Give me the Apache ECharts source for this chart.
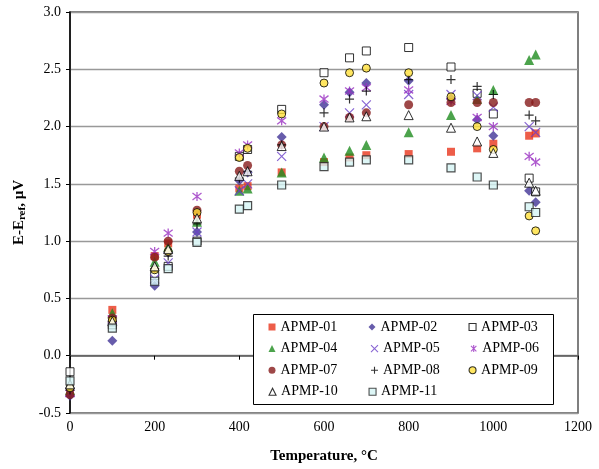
<!DOCTYPE html>
<html><head><meta charset="utf-8">
<script src="https://cdn.jsdelivr.net/npm/echarts@6/dist/echarts.min.js"></script>
<style>html,body{margin:0;padding:0;background:#fff}#c{width:599px;height:469px}</style>
</head><body><div id="c"></div>
<script>
var temps = [0, 100, 200, 231.928, 300, 400, 419.527, 500, 600, 660.323, 700, 800, 900, 961.78, 1000, 1084.62, 1100];
var apmp01 = [-0.32, 0.40, 0.87, 0.98, 1.23, 1.46, 1.48, 1.60, 1.69, 1.73, 1.75, 1.76, 1.78, 1.81, 1.85, 1.92, 1.94];
var apmp02 = [-0.35, 0.13, 0.61, 0.90, 1.08, 1.53, 1.60, 1.91, 2.19, 2.30, 2.38, 2.40, 2.24, 2.06, 1.92, 1.44, 1.34];
var apmp03 = [-0.14, 0.27, 0.70, 0.78, 1.00, 1.74, 1.80, 2.15, 2.47, 2.60, 2.66, 2.69, 2.52, 2.29, 2.11, 1.55, 1.43];
var apmp04 = [-0.30, 0.37, 0.82, 0.95, 1.17, 1.44, 1.46, 1.60, 1.73, 1.79, 1.84, 1.95, 2.10, 2.24, 2.32, 2.58, 2.63];
var apmp05 = [-0.32, 0.31, 0.67, 0.81, 1.08, 1.44, 1.50, 1.74, 2.00, 2.12, 2.19, 2.28, 2.28, 2.27, 2.17, 2.00, 1.95];
var apmp06 = [-0.33, 0.32, 0.91, 1.07, 1.39, 1.77, 1.84, 2.05, 2.24, 2.31, 2.34, 2.32, 2.22, 2.08, 2.00, 1.74, 1.69];
var apmp07 = [-0.34, 0.33, 0.86, 1.00, 1.27, 1.61, 1.66, 1.84, 2.00, 2.08, 2.12, 2.19, 2.21, 2.21, 2.21, 2.21, 2.21];
var apmp08 = [-0.30, 0.30, 0.76, 0.87, 1.15, 1.55, 1.61, 1.84, 2.12, 2.24, 2.31, 2.41, 2.41, 2.35, 2.28, 2.10, 2.05];
var apmp09 = [-0.28, 0.31, 0.75, 0.91, 1.25, 1.73, 1.81, 2.11, 2.38, 2.47, 2.51, 2.47, 2.26, 2.00, 1.80, 1.22, 1.09];
var apmp10 = [-0.25, 0.30, 0.78, 0.93, 1.20, 1.57, 1.61, 1.83, 2.00, 2.08, 2.09, 2.10, 1.99, 1.87, 1.77, 1.51, 1.44];
var apmp11 = [-0.22, 0.24, 0.65, 0.76, 0.99, 1.28, 1.31, 1.49, 1.65, 1.69, 1.71, 1.71, 1.64, 1.56, 1.49, 1.30, 1.25];
var seriesNames = ['APMP-01','APMP-02','APMP-03','APMP-04','APMP-05','APMP-06','APMP-07','APMP-08','APMP-09','APMP-10','APMP-11'];
var seriesValues = [apmp01, apmp02, apmp03, apmp04, apmp05, apmp06, apmp07, apmp08, apmp09, apmp10, apmp11];
var yTicks = [-0.5, 0.0, 0.5, 1.0, 1.5, 2.0, 2.5, 3.0];
var xTicks = [0, 200, 400, 600, 800, 1000, 1200];

var FONT = '"Liberation Serif", "Times New Roman", serif';
var PX = 'path://M0,0L10,10M10,0L0,10';
var PSTAR = 'path://M0,0L10,10M10,0L0,10M5,-1.5L5,11.5';
var PPLUS = 'path://M5,0L5,10M0,5L10,5';
var styles = [
  {symbol:'rect', size:8, item:{color:'#e8341c'}},
  {symbol:'diamond', size:10, item:{color:'#413396'}},
  {symbol:'rect', size:8, item:{color:'#ffffff', borderColor:'#000', borderWidth:1}},
  {symbol:'triangle', size:10, item:{color:'#1f8c1f'}},
  {symbol:PX, size:9, item:{color:'none', borderColor:'#6a3fc8', borderWidth:1.2}},
  {symbol:PSTAR, size:9, item:{color:'none', borderColor:'#9a2fc2', borderWidth:1.3}},
  {symbol:'circle', size:9, item:{color:'#861a1a'}},
  {symbol:PPLUS, size:9, item:{color:'none', borderColor:'#000', borderWidth:1.2}},
  {symbol:'circle', size:8, item:{color:'#ffe03a', borderColor:'#000', borderWidth:1}},
  {symbol:'triangle', size:9, item:{color:'#ffffff', borderColor:'#000', borderWidth:1}},
  {symbol:'rect', size:8, item:{color:'#d4f4f4', borderColor:'#222', borderWidth:1.2}}
];

var series = seriesNames.map(function(n, i){
  return {
    name: n, type: 'scatter', xAxisIndex: 0, yAxisIndex: 0,
    symbol: styles[i].symbol, symbolSize: styles[i].size,
    itemStyle: styles[i].item,
    data: temps.map(function(t, k){ return [t, seriesValues[i][k]]; }),
    z: 3 + i
  };
});

var legends = seriesNames.map(function(n, i){
  var col = i % 3, row = Math.floor(i / 3);
  var st = styles[i].item;
  return {
    data: [{name: n, icon: styles[i].symbol,
      itemStyle: {color: st.color, borderColor: st.borderColor || st.color, borderWidth: st.borderWidth ? 1.1 : 0}}],
    left: 268.5 + col * 100, top: 320 + row * 21.6, padding: 0,
    itemWidth: 7, itemHeight: 7, itemGap: 0, z: 40,
    textStyle: {fontFamily: FONT, fontSize: 14, color: '#000', padding: [0,0,0,0]},
    selectedMode: false
  };
});

var option = {
  animation: false,
  backgroundColor: '#fff',
  grid: {left: 70, right: 21, top: 12, bottom: 55, show: true, borderColor: '#555', borderWidth: 1.5},
  legend: legends,
  graphic: [{type:'rect', shape:{x:253.5, y:314.5, width:300, height:90}, style:{fill:'#fff', stroke:'#000', lineWidth:1}, z: 20}],
  xAxis: [{
    type: 'value', min: 0, max: 1200, interval: 200, position: 'bottom',
    axisLine: {show: false}, axisTick: {show: false}, splitLine: {show: false},
    axisLabel: {fontFamily: FONT, fontSize: 14, color: '#000', margin: 7, formatter: function(v){ return String(v); }},
    name: 'Temperature, °C', nameLocation: 'middle', nameGap: 36,
    nameTextStyle: {fontFamily: FONT, fontSize: 15, fontWeight: 'bold', color: '#000'}
  }, {
    type: 'value', min: 0, max: 1200, interval: 200, position: 'bottom',
    axisLine: {show: true, onZero: true, onZeroAxisIndex: 0, lineStyle: {color: '#555', width: 1.5}},
    axisTick: {show: true, inside: false, length: 4, lineStyle: {color: '#000'}},
    axisLabel: {show: false}, splitLine: {show: false}
  }],
  yAxis: [{
    type: 'value', min: -0.5, max: 3.0, interval: 0.5,
    axisLine: {show: true, onZero: false, lineStyle: {color: '#000', width: 1.5}},
    axisTick: {show: true, length: 4, lineStyle: {color: '#000'}},
    axisLabel: {fontFamily: FONT, fontSize: 14, color: '#000', margin: 9, formatter: function(v){ return v.toFixed(1); }},
    splitLine: {show: true, lineStyle: {color: '#999', width: 1.3}},
    name: '{b|E-E}{s|ref}{b|, µV}', nameLocation: 'middle', nameGap: 39, nameRotate: 90,
    nameTextStyle: {fontFamily: FONT, color: '#000', rich: {
      b: {fontFamily: FONT, fontSize: 15, fontWeight: 'bold', color: '#000'},
      s: {fontFamily: FONT, fontSize: 11, fontWeight: 'bold', color: '#000', padding: [6,0,0,0], verticalAlign: 'bottom'}
    }}
  }],
  series: series
};
var chart = echarts.init(document.getElementById('c'), null, {renderer: 'canvas'});
chart.setOption(option);
</script>
</body></html>
